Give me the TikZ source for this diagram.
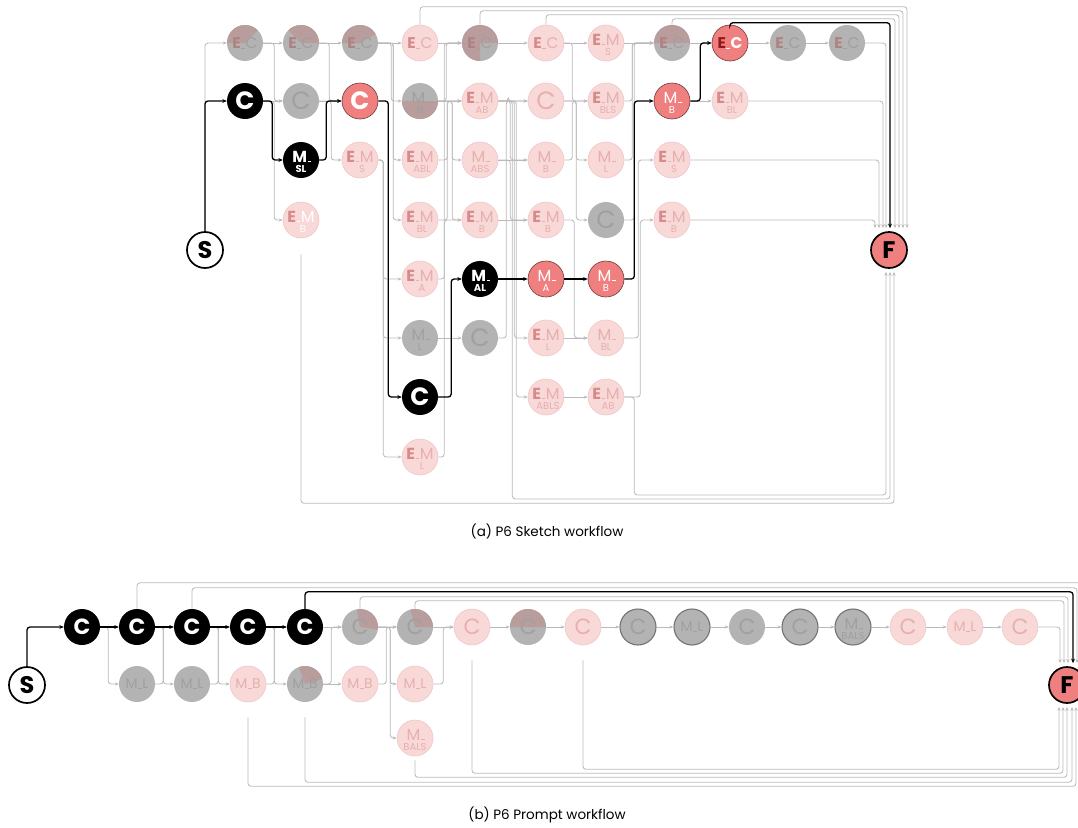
\documentclass[tikz,border=0pt]{standalone}
\usepackage{fontspec}
\setmainfont{Poppins}
\usetikzlibrary{arrows.meta}
\definecolor{cpink}{HTML}{F9D8D8}
\definecolor{cpinkd}{HTML}{F0C6C6}
\definecolor{cpE}{HTML}{D68A8A}
\definecolor{cpL}{HTML}{E6B0B0}
\definecolor{cgray}{HTML}{B3B3B3}
\definecolor{cgE}{HTML}{AE8282}
\definecolor{cgL}{HTML}{A0A0A0}
\definecolor{cdr}{HTML}{B99C9C}
\definecolor{cred}{HTML}{F08080}
\definecolor{credd}{HTML}{6E3A3A}
\definecolor{cErd}{HTML}{8E1B1B}
\definecolor{cline}{HTML}{BABABA}
\newcommand{\us}{\kern0.6pt\rule{3.6pt}{0.9pt}\kern0.6pt}
\newcommand{\fEC}{\fontsize{15.5}{15.5}\selectfont}
\newcommand{\fM}{\fontsize{16}{16}\selectfont}
\newcommand{\fsub}{\fontsize{10}{10}\selectfont}
\newcommand{\fCa}{\fontsize{25}{25}\selectfont}
\newcommand{\fCab}{\fontsize{25}{25}\selectfont\bfseries}
\newcommand{\fCb}{\fontsize{22}{22}\selectfont}
\newcommand{\fCbb}{\fontsize{22}{22}\selectfont\bfseries}
\newcommand{\fML}{\fontsize{14}{14}\selectfont}
\newcommand{\fT}{\fontsize{24}{24}\selectfont\bfseries}
\tikzset{
  every label/.style={inner sep=0pt, outer sep=0pt},
  nd/.style={circle, minimum size=36pt, inner sep=0pt},
  pk/.style={nd, fill=cpink, draw=cpinkd, line width=0.6pt},
  gy/.style={nd, fill=cgray},
  gyd/.style={nd, fill=cgray, draw=black!55, line width=1.1pt},
  bk/.style={nd, fill=black},
  rd/.style={nd, fill=cred, draw=credd, line width=0.6pt},
  term/.style={nd, draw=black, line width=1.7pt},
  wedge/.style 2 args={path picture={\fill[cdr] (path picture bounding box.center)
     -- ([shift={(#1:40pt)}]path picture bounding box.center)
     -- ([shift={({#1+(#2-#1)*0.25}:40pt)}]path picture bounding box.center)
     -- ([shift={({#1+(#2-#1)*0.5}:40pt)}]path picture bounding box.center)
     -- ([shift={({#1+(#2-#1)*0.75}:40pt)}]path picture bounding box.center)
     -- ([shift={(#2:40pt)}]path picture bounding box.center) -- cycle;}},
  EC/.style 2 args={label={[font=\fEC]center:{\color{#1}\bfseries E}{\color{#2}\us C}}},
  ECb/.style 2 args={label={[font=\fEC\bfseries]center:{\color{#1}E}{\color{#2}\us C}}},
  EM/.style n args={3}{label={[font=\fM,yshift=3.5pt]center:{\color{#1}\bfseries E}{\color{#2}\us M}},
                       label={[font=\fsub,text=#2,yshift=-9pt,xshift=2pt]center:#3}},
  pEM/.style={EM={cpE}{cpL}{#1}},
  MS/.style 2 args={label={[font=\fM,text=#1,yshift=3.5pt,xshift=1pt]center:M\us},
                    label={[font=\fsub,text=#1,yshift=-9pt]center:#2}},
  MSb/.style 2 args={label={[font=\fM\bfseries,text=#1,yshift=3.5pt,xshift=1pt]center:M\us},
                    label={[font=\fsub\bfseries,text=#1,yshift=-9pt]center:#2}},
  Cl/.style 2 args={label={[font=#2,text=#1]center:C}},
  ML/.style 2 args={label={[font=\fML,text=#1]center:M\us#2}},
  gl/.style={draw=cline, line width=0.85pt, rounded corners=3pt, -{Stealth[length=4pt,width=3.2pt]}},
  bl/.style={draw=black, line width=1.3pt, rounded corners=3pt, -{Stealth[length=4.5pt,width=3.8pt]}},
  captext/.style={font=\fontsize{13.5}{13.5}\selectfont, inner sep=0pt}
}
\begin{document}
\begin{tikzpicture}[x=1pt,y=-1pt]
\useasboundingbox (0,0) rectangle (1078,827);
\clip (0,0) rectangle (1078,827);
% ================= (a) nodes =================
\node[term, fill=white, label={[font=\fT]center:S}] (S) at (205,250) {};
\node[term, fill=cred, label={[font=\fT]center:F}] (F) at (889,250) {};
\node[gy, wedge={45}{180}, EC={cgE}{cgL}] (c0r0) at (245,43) {};
\node[bk, Cl={white}{\fCab}] (c0r1) at (245,101) {};
\node[gy, wedge={0}{135}, EC={cgE}{cgL}] (c1r0) at (301,43) {};
\node[gy, Cl={cgL}{\fCa}] (c1r1) at (301,101) {};
\node[bk, MSb={white}{SL}] (c1r2) at (301,160) {};
\node[pk, EM={cpE}{white}{B}] (c1r3) at (301,220) {};
\node[gy, wedge={30}{180}, EC={cgE}{cgL}] (c2r0) at (360,43) {};
\node[rd, Cl={white}{\fCab}] (c2r1) at (360,101) {};
\node[pk, pEM=S] (c2r2) at (360,160) {};
\node[pk, EC={cpE}{cpL}] (c3r0) at (420,43) {};
\node[gy, wedge={180}{360}, MS={cgL}{B}] (c3r1) at (420,101) {};
\node[pk, pEM=ABL] (c3r2) at (420,160) {};
\node[pk, pEM=BL] (c3r3) at (420,220) {};
\node[pk, pEM=A] (c3r4) at (420,279) {};
\node[gy, MS={cgL}{L}] (c3r5) at (420,338) {};
\node[bk, Cl={white}{\fCab}] (c3r6) at (420,397) {};
\node[pk, pEM=L] (c3r7) at (420,457) {};
\node[gy, wedge={0}{270}, EC={cgE}{cgL}] (c4r0) at (480,43) {};
\node[pk, pEM=AB] (c4r1) at (480,101) {};
\node[pk, MS={cpL}{ABS}] (c4r2) at (480,160) {};
\node[pk, pEM=B] (c4r3) at (480,220) {};
\node[bk, MSb={white}{AL}] (c4r4) at (480,279) {};
\node[gy, Cl={cgL}{\fCa}] (c4r5) at (480,338) {};
\node[pk, EC={cpE}{cpL}] (c5r0) at (546,43) {};
\node[pk, Cl={cpL}{\fCa}] (c5r1) at (546,101) {};
\node[pk, MS={cpL}{B}] (c5r2) at (546,160) {};
\node[pk, pEM=B] (c5r3) at (546,220) {};
\node[rd, MS={white}{A}] (c5r4) at (546,279) {};
\node[pk, pEM=L] (c5r5) at (546,338) {};
\node[pk, pEM=ABLS] (c5r6) at (546,397) {};
\node[pk, pEM=S] (c6r0) at (606,43) {};
\node[pk, pEM=BLS] (c6r1) at (606,101) {};
\node[pk, MS={cpL}{L}] (c6r2) at (606,160) {};
\node[gy, Cl={cgL}{\fCa}] (c6r3) at (606,220) {};
\node[rd, MS={white}{B}] (c6r4) at (606,279) {};
\node[pk, MS={cpL}{BL}] (c6r5) at (606,338) {};
\node[pk, pEM=AB] (c6r6) at (606,397) {};
\node[gy, wedge={0}{180}, EC={cgE}{cgL}] (c7r0) at (672,43) {};
\node[rd, MS={white}{B}] (c7r1) at (672,101) {};
\node[pk, pEM=S] (c7r2) at (672,160) {};
\node[pk, pEM=B] (c7r3) at (672,220) {};
\node[rd, ECb={cErd}{white}] (c8r0) at (730,43) {};
\node[pk, pEM=BL] (c8r1) at (730,101) {};
\node[gy, EC={cgE}{cgL}] (c9r0) at (788,43) {};
\node[gy, EC={cgE}{cgL}] (c10r0) at (847,43) {};
% ================= (a) gray connectors =================
\draw[gl] (S.north) |- (c0r0.west);
\draw[gl] (c0r0) -- (c1r0);
\draw[gl] (c0r0.east) -- ++(11,0) |- (c1r1.west);
\draw[gl] (c0r1) -- (c1r1);
\draw[gl] (c0r1.east) -- ++(11,0) |- (c1r3.west);
\draw[gl] (c1r0) -- (c2r0);
\draw[gl] (c1r0.east) -- ++(10,0) |- (c2r1.west);
\draw[gl] (c1r1) -- (c2r1);
\draw[gl] (c1r1.east) -- ++(12,0) |- (c2r2.west);
\draw[gl] (c2r0) -- (c3r0);
\draw[gl] (c2r0.east) -- ++(13,0) |- (c3r1.west);
\draw[gl] (c2r0.east) -- ++(15,0) |- (c3r2.west);
\draw[gl] (c2r0.east) -- ++(15,0) |- (c3r3.west);
\draw[gl] (c2r2.east) -- ++(5,0) |- (c3r4.west);
\draw[gl] (c2r2.east) -- ++(5,0) |- (c3r5.west);
\draw[gl] (c2r2.east) -- ++(5,0) |- (c3r7.west);
\draw[gl] (c3r0) -- (c4r0);
\draw[gl] (c3r1.east) -- ++(8,0) |- (c4r0.west);
\draw[gl] (c3r1) -- (c4r1);
\draw[gl] (c3r1.east) -- ++(14,0) |- (c4r2.west);
\draw[gl] (c3r1.east) -- ++(14,0) |- (c4r3.west);
\draw[gl] (c3r2.east) -- ++(9,0) |- (c4r1.west);
\draw[gl] (c3r3.east) -- ++(9,0) |- (c4r1.west);
\draw[gl] (c3r4.east) -- ++(6,0) |- (c4r0.west);
\draw[gl] (c3r5) -- (c4r5);
\draw[gl] (c3r7.east) -- ++(6,0) |- (c4r3.west);
\draw[gl] (c4r0) -- (c5r0);
\draw[gl] (c4r1.east) -- ++(10,0) |- (c5r1.west);
\draw[gl] (c4r1.east) -- ++(12,0) |- (c5r2.west);
\draw[gl] (c4r1.east) -- ++(16,0) |- (c5r5.west);
\draw[gl] (c4r1.east) -- ++(18,0) |- (c5r6.west);
\draw[gl] (c4r2) -- (c5r2);
\draw[gl] (c4r2.east) -- ++(12,0) |- (c5r3.west);
\draw[gl] (c4r3) -- (c5r3);
\draw[gl] (c4r5.east) -- ++(8,0) |- (c5r1.west);
\draw[gl] (c5r0) -- (c6r0);
\draw[gl] (c5r0.east) -- ++(8,0) |- (c6r1.west);
\draw[gl] (c5r1.east) -- ++(12,0) |- (c6r2.west);
\draw[gl] (c5r1.east) -- ++(12,0) |- (c6r3.west);
\draw[gl] (c5r2.east) -- ++(8,0) |- (c6r1.west);
\draw[gl] (c5r3.east) -- ++(10,0) |- (c6r5.west);
\draw[gl] (c5r5) -- (c6r5);
\draw[gl] (c5r6) -- (c6r6);
\draw[gl] (c6r0) -- (c7r0);
\draw[gl] (c6r1.east) -- ++(8,0) |- (c7r0.west);
\draw[gl] (c6r2.east) -- ++(8,0) |- (c7r0.west);
\draw[gl] (c6r3.east) -- ++(10,0) |- (c7r0.west);
\draw[gl] (c6r5.east) -- ++(14,0) |- (c7r2.west);
\draw[gl] (c6r6.east) -- ++(16,0) |- (c7r3.west);
\draw[gl] (c7r0) -- (c8r0);
\draw[gl] (c7r1) -- (c8r1);
\draw[gl] (c8r0) -- (c9r0);
\draw[gl] (c9r0) -- (c10r0);
% to F top
\draw[gl] (c3r0.north) -- ++(0,-18) -| ([xshift=18pt,yshift=3pt]F.north);
\draw[gl] (c4r0.north) -- ++(0,-14) -| ([xshift=14pt,yshift=3pt]F.north);
\draw[gl] (c5r0.north) -- ++(0,-10) -| ([xshift=10pt,yshift=3pt]F.north);
\draw[gl] (c7r0.north) -- ++(0,-6) -| ([xshift=6pt,yshift=3pt]F.north);
\draw[gl] (c10r0.east) -| ([xshift=-3pt,yshift=3pt]F.north);
\draw[gl] (c8r1.east) -| ([xshift=-6pt,yshift=3pt]F.north);
\draw[gl] (c7r2.east) -| ([xshift=-10pt,yshift=3pt]F.north);
\draw[gl] (c7r3.east) -| ([xshift=-14pt,yshift=3pt]F.north);
% to F bottom
\draw[gl] ([yshift=-16pt]c1r3.south) -- ++(0,249) -| ([xshift=5pt,yshift=-3pt]F.south);
\draw[gl] (c4r1.east) -- ++(14,0) -- ++(0,398) -| ([xshift=1pt,yshift=-3pt]F.south);
\draw[gl] (c6r6.east) -- ++(10,0) -- ++(0,98) -| ([xshift=-3pt,yshift=-3pt]F.south);
% ================= (a) black path =================
\draw[bl] (S.north) |- (c0r1.west);
\draw[bl] (c0r1.east) -- ++(9,0) |- (c1r2.west);
\draw[bl] (c1r2.east) -- ++(7,0) |- (c2r1.west);
\draw[bl] (c2r1.east) -- ++(10,0) |- (c3r6.west);
\draw[bl] (c3r6.east) -- ++(13,0) |- (c4r4.west);
\draw[bl] (c4r4) -- (c5r4);
\draw[bl] (c5r4) -- (c6r4);
\draw[bl] (c6r4.east) -- ++(10,0) |- (c7r1.west);
\draw[bl] (c7r1.east) -- ++(10,0) |- (c8r0.west);
\draw[bl] (c8r0.north) -- ++(0,-2) -| ([xshift=1pt,yshift=3pt]F.north);
\node[captext] (capA) at (547,531) {(a) P6 Sketch workflow};
% ================= (b) nodes =================
\node[term, fill=white, label={[font=\fT]center:S}] (bS) at (27,685) {};
\node[term, fill=cred, label={[font=\fT]center:F}] (bF) at (1067,685) {};
\node[bk, Cl={white}{\fCbb}] (b1) at (82,627) {};
\node[bk, Cl={white}{\fCbb}] (b2) at (137,627) {};
\node[bk, Cl={white}{\fCbb}] (b3) at (192,627) {};
\node[bk, Cl={white}{\fCbb}] (b4) at (248,627) {};
\node[bk, Cl={white}{\fCbb}] (b5) at (305,627) {};
\node[gy, wedge={-8}{100}, Cl={cgL}{\fCb}] (b6) at (360,627) {};
\node[gy, wedge={0}{105}, Cl={cgL}{\fCb}] (b7) at (415,627) {};
\node[pk, Cl={cpL}{\fCb}] (b8) at (472,627) {};
\node[gy, wedge={0}{180}, Cl={cgL}{\fCb}] (b9) at (528,627) {};
\node[pk, Cl={cpL}{\fCb}] (b10) at (583,627) {};
\node[gyd, Cl={cgL}{\fCb}] (b11) at (638,627) {};
\node[gyd, ML={cgL}{L}] (b12) at (692,627) {};
\node[gy, Cl={cgL}{\fCb}] (b13) at (747,627) {};
\node[gyd, Cl={cgL}{\fCb}] (b14) at (800,627) {};
\node[gyd, MS={cgL}{BALS}] (b15) at (853,627) {};
\node[pk, Cl={cpL}{\fCb}] (b16) at (908,627) {};
\node[pk, ML={cpL}{L}] (b17) at (965,627) {};
\node[pk, Cl={cpL}{\fCb}] (b18) at (1020,627) {};
\node[gy, ML={cgL}{L}] (d2) at (137,684) {};
\node[gy, ML={cgL}{L}] (d3) at (192,684) {};
\node[pk, ML={cpL}{B}] (d4) at (248,684) {};
\node[gy, wedge={15}{110}, ML={cgL}{B}] (d5) at (305,684) {};
\node[pk, ML={cpL}{B}] (d6) at (360,684) {};
\node[pk, ML={cpL}{L}] (d7) at (415,684) {};
\node[pk, MS={cpL}{BALS}] (e7) at (415,738) {};
% ================= (b) connectors =================
\draw[gl] (b1.east) -- ++(8,0) |- (d2.west);
\draw[gl] (d2.east) -- ++(8,0) |- (b3.west);
\draw[gl] (b2.east) -- ++(8,0) |- (d3.west);
\draw[gl] (d3.east) -- ++(8,0) |- (b4.west);
\draw[gl] (b3.east) -- ++(8,0) |- (d4.west);
\draw[gl] (d4.east) -- ++(8,0) |- (b5.west);
\draw[gl] (b4.east) -- ++(8,0) |- (d5.west);
\draw[gl] (b5) -- (b6);
\draw[gl] (d5) -- (d6);
\draw[gl] (d5.east) -- ++(8,0) |- (b6.west);
\draw[gl] (b6) -- (b7);
\draw[gl] (d6.east) -- ++(8,0) |- (b7.west);
\draw[gl] (b6.east) -- ++(12,0) |- (d7.west);
\draw[gl] (b6.east) -- ++(12,0) |- (e7.west);
\draw[gl] (b7) -- (b8);
\draw[gl] (d7.east) -- ++(10,0) |- (b8.west);
\draw[gl] (b8) -- (b9);
\draw[gl] (b9) -- (b10);
\draw[gl] (b10) -- (b11);
\draw[gl] (b11) -- (b12);
\draw[gl] (b12) -- (b13);
\draw[gl] (b13) -- (b14);
\draw[gl] (b14) -- (b15);
\draw[gl] (b15) -- (b16);
\draw[gl] (b16) -- (b17);
\draw[gl] (b17) -- (b18);
\draw[gl] (b18.east) -| ([xshift=-7pt,yshift=3pt]bF.north);
\draw[gl] (b2.north) -- ++(0,-26) -| ([xshift=14pt,yshift=3pt]bF.north);
\draw[gl] (b3.north) -- ++(0,-21) -| ([xshift=10pt,yshift=3pt]bF.north);
\draw[gl] (b6.north) -- ++(0,-12) -| ([xshift=1pt,yshift=3pt]bF.north);
\draw[gl] (b7.north) -- ++(0,-8) -| ([xshift=-3pt,yshift=3pt]bF.north);
\draw[gl] ([yshift=-15pt]d4.south) -- ++(0,69) -| ([xshift=9pt,yshift=-3pt]bF.south);
\draw[gl] ([yshift=-15pt]d5.south) -- ++(0,65) -| ([xshift=5pt,yshift=-3pt]bF.south);
\draw[gl] ([yshift=-4pt]e7.south) -- ++(0,17) -| ([xshift=0pt,yshift=-3pt]bF.south);
\draw[gl] ([yshift=-15pt]b8.south) -- ++(0,113) -| ([xshift=-4pt,yshift=-3pt]bF.south);
\draw[gl] ([yshift=-15pt]b10.south) -- ++(0,109) -| ([xshift=-8pt,yshift=-3pt]bF.south);
\draw[bl] (bS.north) |- (b1.west);
\draw[bl] (b1) -- (b2);
\draw[bl] (b2) -- (b3);
\draw[bl] (b3) -- (b4);
\draw[bl] (b4) -- (b5);
\draw[bl] (b5.north) -- ++(0,-17) -| ([xshift=6pt,yshift=3pt]bF.north);
\node[captext] (capB) at (547,815) {(b) P6 Prompt workflow};
\end{tikzpicture}
\end{document}
